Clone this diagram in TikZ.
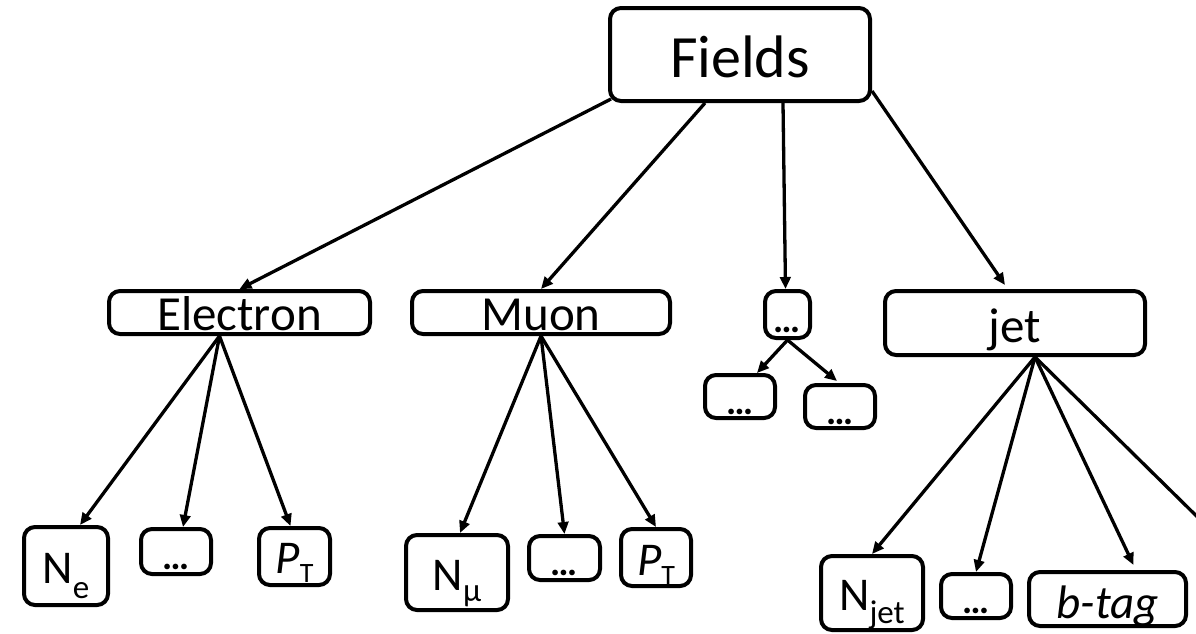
\documentclass[tikz,border=0pt]{standalone}
\usepackage{fontspec}
\setmainfont{Carlito}
\usetikzlibrary{arrows.meta,calc}
\newcommand{\lowsub}[3]{\raisebox{-#1pt}{\fontsize{#2}{#2}\selectfont #3}}
\newcommand{\fs}[1]{\fontsize{#1}{#1}\selectfont}
\begin{document}
\begin{tikzpicture}[x=1pt,y=-1pt,
  box/.style={draw, line width=4pt, rounded corners=11pt, inner sep=0pt, text depth=0pt, anchor=center, fill=white},
  arr/.style={line width=3.3pt, -{Triangle[length=12pt,width=10.5pt]}},
  big/.style={font=\fs{49}},
  lbl/.style={font=\fs{47}},
  dotsf/.style={font=\fs{38}\bfseries},
  ]
\clip (0,0) rectangle (1196,633);
\fill[white] (0,0) rectangle (1196,633);

% top
\node[box, minimum width=260pt, minimum height=93pt, text height=45pt, font=\fs{60}] (fields) at (740,54.5) {Fields};

% second row
\node[box, big, minimum width=261pt, minimum height=43pt, text height=35pt] (electron) at (239.5,312.5) {Electron};
\node[box, big, minimum width=258pt, minimum height=43pt, text height=35pt] (muon) at (541,312.5) {Muon};
\node[box, dotsf, minimum width=45pt, minimum height=47pt, text height=35pt] (mid) at (787.5,314.5) {…};
\node[box, big, minimum width=260pt, minimum height=64pt, text height=38pt] (jet) at (1015,323) {jet};

% middle small
\node[box, dotsf, minimum width=70pt, minimum height=43pt, text height=35pt] (sl) at (740,396.5) {…};
\node[box, dotsf, minimum width=70pt, minimum height=43pt, text height=35pt] (sr) at (840,406.5) {…};

% bottom row
\node[box, lbl, minimum width=84pt, minimum height=78pt, text height=34pt] (ne) at (66,566) {N\lowsub{15}{33}{e}};
\node[box, dotsf, minimum width=70pt, minimum height=45pt, text height=35pt] (edots) at (176,551.5) {…};
\node[box, lbl, minimum width=71pt, minimum height=57pt, text height=33pt] (ept) at (294.5,556.5) {\textit{P}\lowsub{9}{28}{T}};

\node[box, lbl, minimum width=102pt, minimum height=75pt, text height=35pt] (nmu) at (457,572.5) {N\lowsub{11}{33}{µ}};
\node[box, dotsf, minimum width=71pt, minimum height=44pt, text height=34pt] (mdots) at (564.5,558) {…};
\node[box, lbl, minimum width=70pt, minimum height=57pt, text height=35pt] (mpt) at (656,557.5) {\textit{P}\lowsub{9}{28}{T}};

\node[box, lbl, minimum width=102pt, minimum height=74pt, text height=34pt] (njet) at (872,593) {N\lowsub{13}{33}{jet}};
\node[box, dotsf, minimum width=70pt, minimum height=44pt, text height=34pt] (jdots) at (976,596) {…};
\node[box, minimum width=157pt, minimum height=54pt, text height=38pt, font=\fs{47}\itshape] (btag) at (1107.5,599) {b-tag};

\coordinate (off) at (1230,549);

% connectors from Fields
\draw[arr] ($(fields.south west)+(3,-4)$) -- (electron.north);
\draw[arr] ($(fields.south)+(-35,0)$) -- (muon.north);
\draw[arr] ($(fields.south)+(43,0)$) -- ($(mid.north)+(-2,0)$);
\draw[arr] ($(fields.south east)+(0,-12)$) -- ($(jet.north)+(-10,-4)$);

% Electron children
\draw[arr] ($(electron.south)+(-20,0)$) -- ($(ne.north)+(14,0)$);
\draw[arr] ($(electron.south)+(-20,0)$) -- ($(edots.north)+(7,0)$);
\draw[arr] ($(electron.south)+(-20,0)$) -- ($(ept.north)+(-4,0)$);

% Muon children
\draw[arr] (muon.south) -- ($(nmu.north)+(3,0)$);
\draw[arr] (muon.south) -- (mdots.north);
\draw[arr] (muon.south) -- (mpt.north);

% middle children
\draw[arr] (mid.south) -- ($(sl.north)+(17,0)$);
\draw[arr] (mid.south) -- ($(sr.north)+(-3,-2)$);

% jet children
\draw[arr] ($(jet.south)+(20,0)$) -- (njet.north);
\draw[arr] ($(jet.south)+(20,0)$) -- (jdots.north);
\draw[arr] ($(jet.south)+(20,0)$) -- ($(btag.north)+(26,-5)$);
\draw[arr] ($(jet.south)+(20,0)$) -- (off);
\end{tikzpicture}
\end{document}
